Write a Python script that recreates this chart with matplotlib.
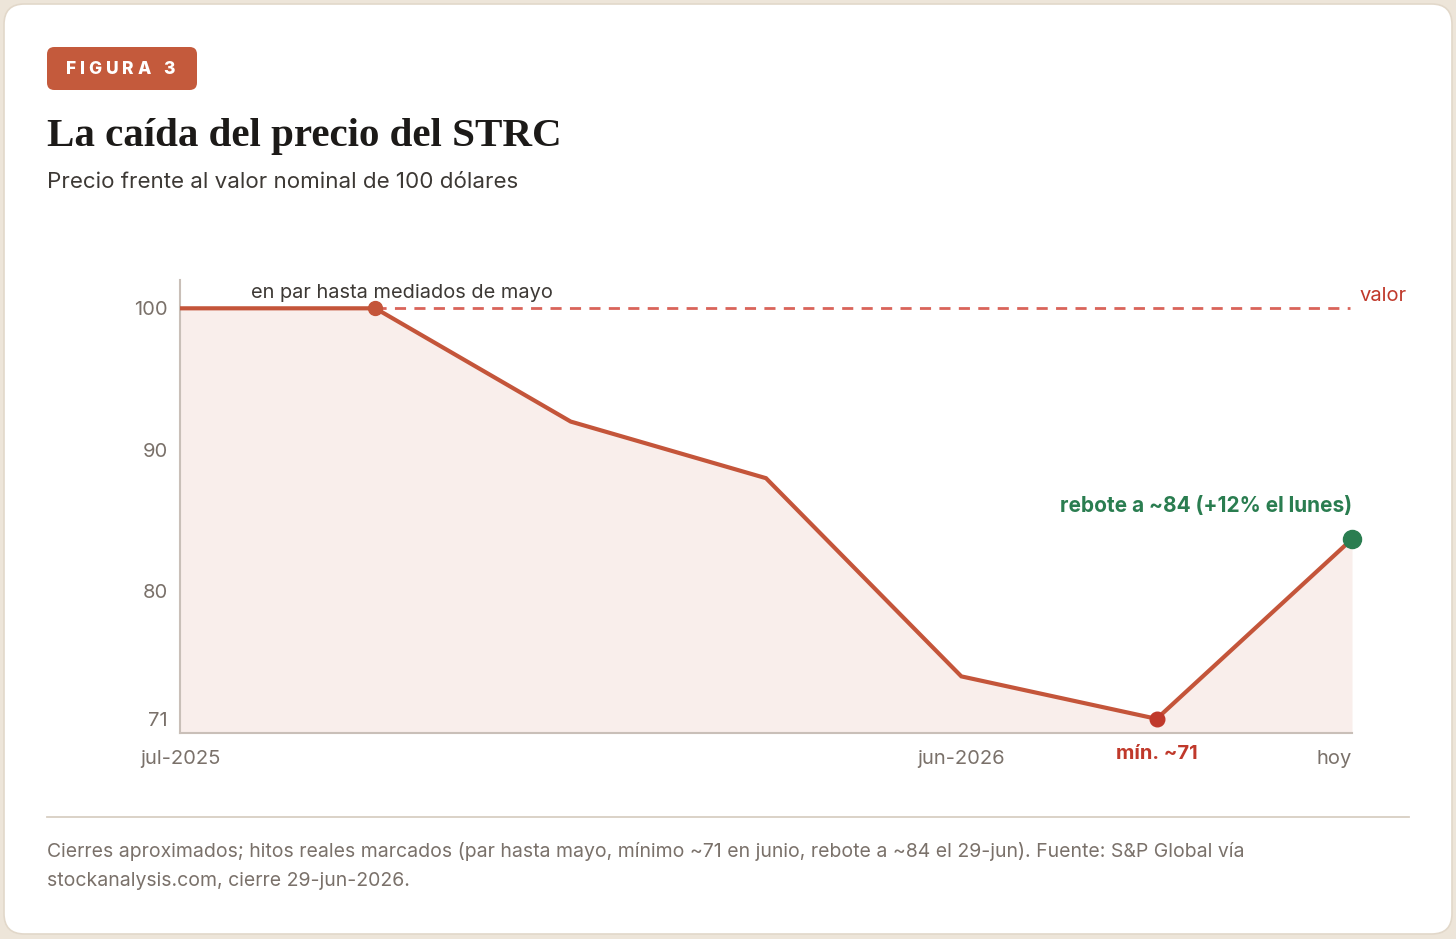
import matplotlib
matplotlib.use("Agg")
import matplotlib.pyplot as plt
from matplotlib.patches import FancyBboxPatch
from matplotlib.lines import Line2D

# data
points = [0, 1, 2, 3, 4, 5, 6]
price = [100, 100, 92, 88, 74, 71, 83.7]
x_ticks = [0, 4, 5, 6]
x_labels = ["jul-2025", "jun-2026", "mín. ~71", "hoy"]
y_ticks = [71, 80, 90, 100]
par_value = 100

LINE = "#c4553a"
FILL = "#f9eeeb"
RED = "#c0392b"
GREEN = "#2a7d50"
GREY = "#7a716a"
DARK = "#1c1a18"
SANS = ["Inter", "DejaVu Sans"]

W, H = 1456, 939
fig = plt.figure(figsize=(W / 100, H / 100), dpi=100)
fig.patch.set_facecolor("#ede5d9")


def fx(px):
    return px / W


def fy(py):
    return 1 - py / H


# white card
card = FancyBboxPatch((fx(4), fy(934)), fx(1448), 930 / H,
                      boxstyle="round,pad=0,rounding_size=0.014",
                      transform=fig.transFigure, facecolor="white",
                      edgecolor="#e2d8ca", linewidth=1.2, mutation_aspect=W / H,
                      zorder=-10)
fig.patches.append(card)

# badge
badge = FancyBboxPatch((fx(47), fy(90)), fx(150), 43 / H,
                       boxstyle="round,pad=0,rounding_size=0.005",
                       transform=fig.transFigure, facecolor="#c45a3c",
                       edgecolor="none", mutation_aspect=W / H, zorder=-5)
fig.patches.append(badge)

# badge text with letter spacing
renderer = fig.canvas.get_renderer()
x0 = 66
for ch in "FIGURA 3":
    t = fig.text(fx(x0), fy(69), ch, color="white", fontsize=12.5,
                 fontweight="heavy", family=SANS, va="center", ha="left")
    w = t.get_window_extent(renderer).width if ch != " " else 5
    x0 += w + 3.8

fig.text(fx(47), fy(146), "La caída del precio del STRC", fontsize=29.5,
         fontweight="bold", family=["Liberation Serif", "DejaVu Serif"],
         color=DARK, va="baseline")
fig.text(fx(47), fy(188), "Precio frente al valor nominal de 100 dólares",
         fontsize=16.1, family=SANS, color="#3d3935", va="baseline")

ax = fig.add_axes([fx(180), fy(733), fx(1352 - 180), (733 - 280) / H])
ax.set_facecolor("none")
ax.set_xlim(0, 6)
ax.set_ylim(70, 102)

ax.fill_between(points, price, 70, color=FILL, zorder=1, linewidth=0)
ax.plot([1, 5.99], [par_value, par_value], color="#d9645a", lw=2,
        dashes=(4, 3), zorder=2)
ax.plot(points, price, color=LINE, lw=3, zorder=3, solid_joinstyle="miter")
ax.plot(points[1], price[1], "o", color=LINE, ms=10, zorder=4)
ax.plot(points[5], price[5], "o", color=RED, ms=10.5, zorder=4)
ax.plot(points[6], price[6], "o", color=GREEN, ms=13, zorder=4, clip_on=False)

for s in ["top", "right"]:
    ax.spines[s].set_visible(False)
for s in ["left", "bottom"]:
    ax.spines[s].set_color("#c9bfb8")
    ax.spines[s].set_linewidth(1.5)

ax.set_yticks(y_ticks)
ax.set_yticklabels([str(v) for v in y_ticks])
ax.tick_params(axis="y", length=0, pad=9, labelsize=14.5, labelcolor=GREY)
for lab in ax.get_yticklabels():
    lab.set_family(SANS)

ax.set_xticks(x_ticks)
ax.set_xticklabels(x_labels)
ax.tick_params(axis="x", length=0, pad=12.5, labelsize=14.5, labelcolor=GREY)
for lab, xv in zip(ax.get_xticklabels(), x_ticks):
    lab.set_family(SANS)
    if xv == 5:
        lab.set_color(RED)
        lab.set_fontweight("bold")
        lab.set_y(0.012)
    if xv == 6:
        lab.set_horizontalalignment("right")

ax.text(0.365, 100.45, "en par hasta mediados de mayo", fontsize=14.4,
        family=SANS, color="#3d3935", va="bottom", ha="left")
ax.text(6.04, 100.2, "valor", fontsize=14.5, family=SANS, color=RED,
        va="bottom", ha="left", clip_on=False)
ax.text(6.0, 85.3, "rebote a ~84 (+12% el lunes)", fontsize=15,
        family=SANS, color=GREEN, fontweight="bold", va="bottom", ha="right")

# footer
fig.add_artist(Line2D([fx(47), fx(1409)], [fy(817), fy(817)],
                      color="#d8cfc3", lw=1.3, transform=fig.transFigure))
fig.text(fx(47), fy(857), "Cierres aproximados; hitos reales marcados (par hasta mayo, "
         "mínimo ~71 en junio, rebote a ~84 el 29-jun). Fuente: S&P Global vía",
         fontsize=14, family=SANS, color=GREY, va="baseline")
fig.text(fx(47), fy(886), "stockanalysis.com, cierre 29-jun-2026.",
         fontsize=14, family=SANS, color=GREY, va="baseline")

fig.savefig("out.png", dpi=100, facecolor=fig.get_facecolor())
